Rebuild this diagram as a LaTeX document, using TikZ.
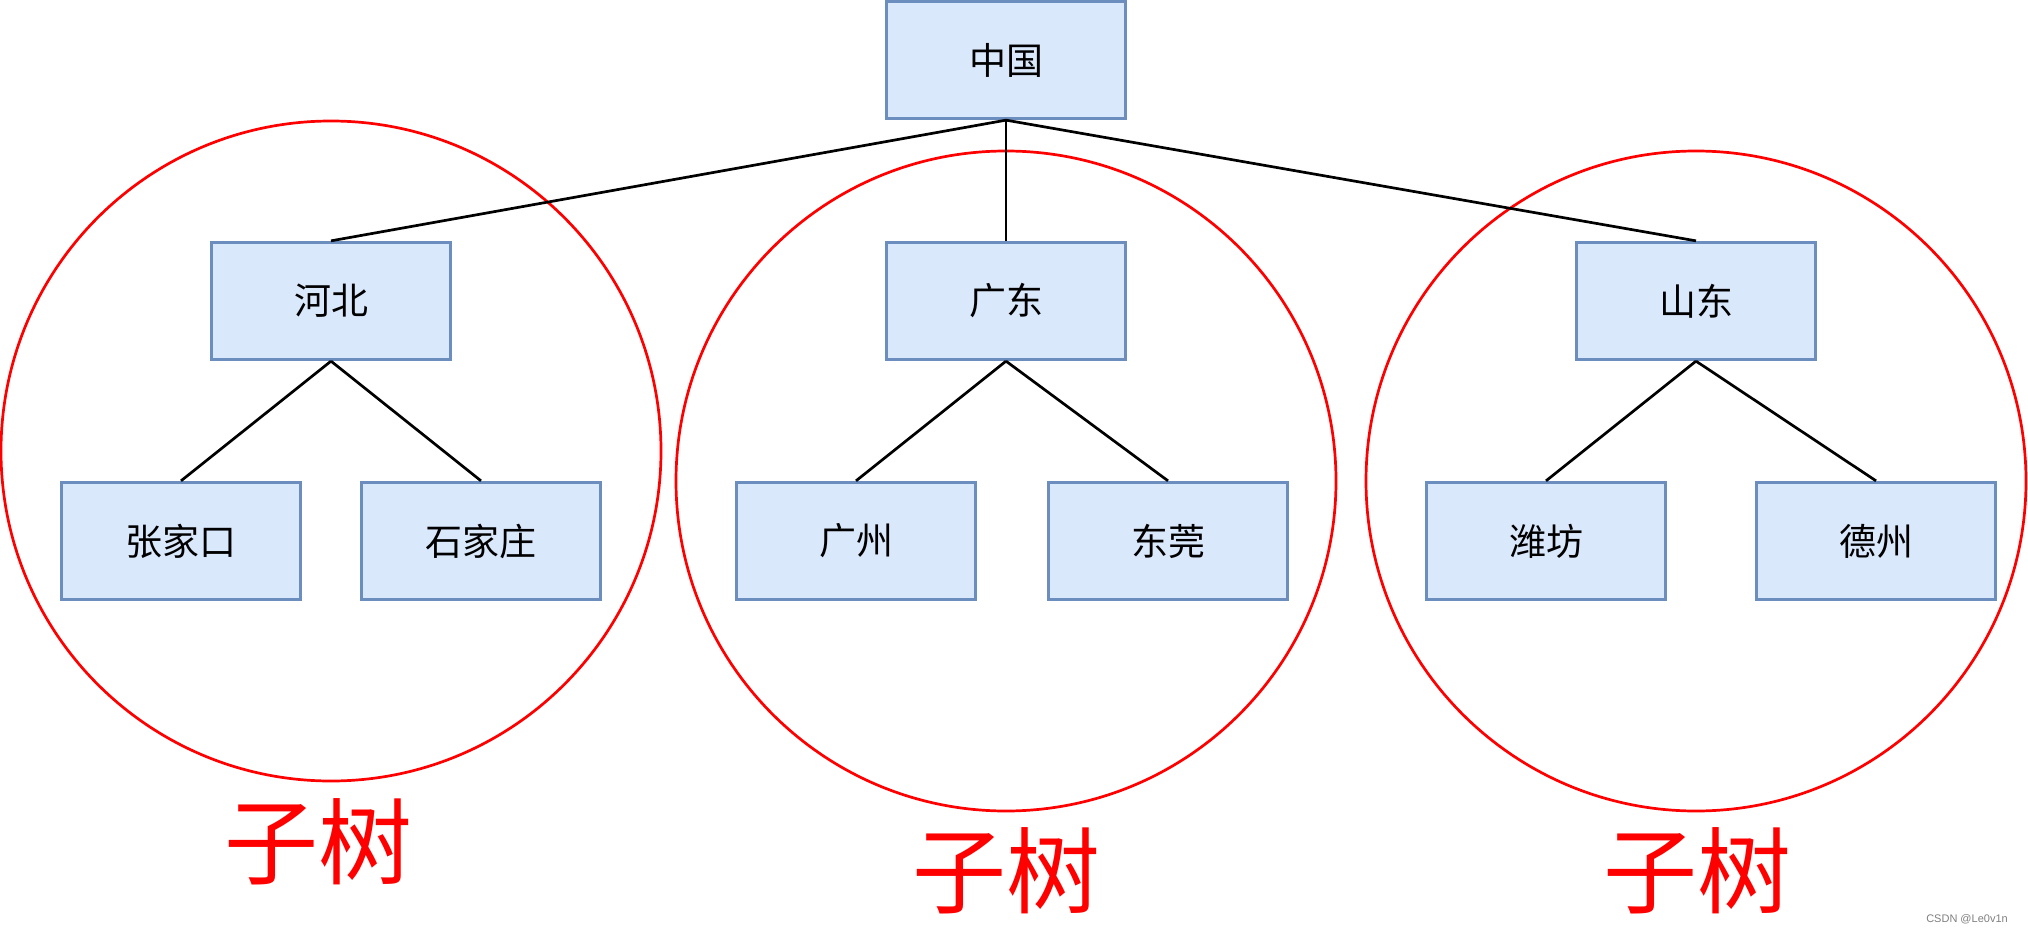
\documentclass[tikz,border=0pt]{standalone}
\usepackage{fontspec}
\newfontfamily\cjk{Noto Sans CJK SC}
\newfontfamily\wmfont{Liberation Sans}
\definecolor{boxfill}{HTML}{DAE8FC}
\definecolor{boxline}{HTML}{6C8EBF}
\definecolor{ringred}{HTML}{FF0000}
\begin{document}
\begin{tikzpicture}[x=1pt,y=-1pt,
  box/.style={draw=boxline, fill=boxfill, line width=2.8pt, minimum width=238.5pt, minimum height=117.5pt, inner sep=0pt, font=\cjk\fontsize{37}{40}\selectfont},
  edge/.style={draw=black, line width=2.7pt},
  ring/.style={draw=ringred, circle, line width=2.7pt, minimum size=660pt, inner sep=0pt},
  sublabel/.style={text=ringred, font=\cjk\fontsize{94}{100}\selectfont, inner sep=0pt}]
\useasboundingbox[fill=white] (0,0) rectangle (2028,933);
% rings
\node[ring] (r1) at (331,451) {};
\node[ring] (r2) at (1006,481) {};
\node[ring] (r3) at (1696,481) {};
% boxes
\node[box] (root) at (1006,60) {中国};
\node[box] (hebei) at (331,301) {河北};
\node[box] (guangdong) at (1006,301) {广东};
\node[box] (shandong) at (1696,301) {山东};
\node[box] (zjk) at (181,541) {张家口};
\node[box] (sjz) at (481,541) {石家庄};
\node[box] (gz) at (856,541) {广州};
\node[box] (dg) at (1168,541) {东莞};
\node[box] (wf) at (1546,541) {潍坊};
\node[box] (dz) at (1876,541) {德州};
% edges
\draw[edge] (root.south) -- (hebei.north);
\draw[edge] (root.south) -- (guangdong.north);
\draw[edge] (root.south) -- (shandong.north);
\draw[edge] (hebei.south) -- (zjk.north);
\draw[edge] (hebei.south) -- (sjz.north);
\draw[edge] (guangdong.south) -- (gz.north);
\draw[edge] (guangdong.south) -- (dg.north);
\draw[edge] (shandong.south) -- (wf.north);
\draw[edge] (shandong.south) -- (dz.north);
% labels
\node[sublabel] (l1) at (318,842) {子树};
\node[sublabel] (l2) at (1006,871) {子树};
\node[sublabel] (l3) at (1697,871) {子树};
\node[text=gray, font=\wmfont\fontsize{11}{12}\selectfont] (wm) at (1967,919) {CSDN @Le0v1n};
\end{tikzpicture}
\end{document}
